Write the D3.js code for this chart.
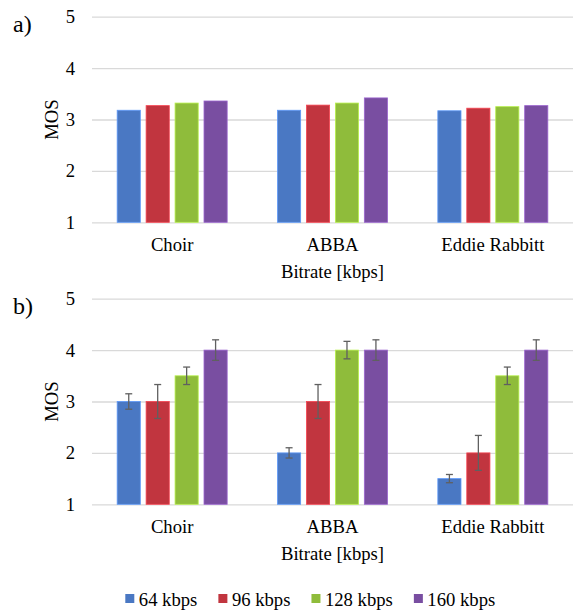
<!DOCTYPE html>
<html>
<head>
<meta charset="utf-8">
<script src="https://cdn.jsdelivr.net/npm/d3@7"></script>
<style>
  body { margin: 0; background: #fff; }
</style>
</head>
<body>
<div id="chart"></div>
<script>

// data
var categories = ["Choir", "ABBA", "Eddie Rabbitt"];
var series = ["64 kbps", "96 kbps", "128 kbps", "160 kbps"];
var colors = ["#4a78c3", "#c1353f", "#8fbc3b", "#794ea1"];
var yTicks = [1, 2, 3, 4, 5];

// panel a) mean scores, one array per bitrate (Choir, ABBA, Eddie Rabbitt)
var a64  = [3.18, 3.18, 3.17];
var a96  = [3.27, 3.28, 3.22];
var a128 = [3.32, 3.32, 3.25];
var a160 = [3.36, 3.42, 3.27];

// panel b) scores and error bars
var b64  = [3.0, 2.0, 1.5];
var b96  = [3.0, 3.0, 2.0];
var b128 = [3.5, 4.0, 3.5];
var b160 = [4.0, 4.0, 4.0];
var e64  = [0.15, 0.10, 0.08];
var e96  = [0.33, 0.33, 0.34];
var e128 = [0.17, 0.17, 0.17];
var e160 = [0.20, 0.20, 0.20];

var width = 573, height = 612;
var fontSize = 18.67;
var baseSize = 16;   // text is set at 16px and scaled up to the wanted size

// move x/y into a transform and scale the text to the wanted size
function serifText(sel, size) {
  sel.each(function() {
    var t = d3.select(this);
    var x = +t.attr("x") || 0, y = +t.attr("y") || 0;
    var tr = t.attr("transform") || "";
    t.attr("x", null).attr("y", null)
      .attr("transform", tr + " translate(" + x + "," + y + ") scale(" + (size / baseSize) + ")")
      .attr("font-family", "'Liberation Serif'")
      .attr("font-size", baseSize)
      .attr("fill", "#000");
  });
}

var svg = d3.select("#chart").append("svg")
    .attr("width", width)
    .attr("height", height);

svg.append("rect").attr("width", width).attr("height", height).attr("fill", "#fff");

// x scales shared by both panels
var x0 = d3.scaleBand()
    .domain(categories)
    .range([92, 573]);

var innerW = 110;
var x1 = d3.scaleBand()
    .domain(series)
    .range([0, innerW])
    .paddingInner(0.2);
var innerOff = (x0.bandwidth() - innerW) / 2;

function drawPanel(top, label, values, errors) {
  var y = d3.scaleLinear()
      .domain([1, 5])
      .range([top + 205.6, top]);

  var g = svg.append("g");

  // gridlines + tick labels
  var yAxis = g.append("g")
      .attr("transform", "translate(92,0)")
      .call(d3.axisLeft(y).tickValues(yTicks).tickFormat(d3.format("d"))
        .tickSize(-(573 - 92)).tickPadding(17));
  yAxis.select(".domain").remove();
  yAxis.selectAll("line").attr("stroke", "#d9d9d9").attr("stroke-width", 1.3);
  serifText(yAxis.selectAll("text"), fontSize);

  // category labels
  var xAxis = g.append("g")
      .attr("transform", "translate(0," + y(1) + ")")
      .call(d3.axisBottom(x0).tickSize(0).tickPadding(15.4));
  xAxis.select(".domain").remove();
  serifText(xAxis.selectAll("text"), fontSize);

  // bars
  var rows = [];
  categories.forEach(function(c, i) {
    series.forEach(function(s, j) {
      rows.push({ cat: c, ser: s, idx: j, value: values[j][i],
                  err: errors ? errors[j][i] : null });
    });
  });

  g.append("g").selectAll("rect")
      .data(rows)
    .enter().append("rect")
      .attr("x", function(d) { return x0(d.cat) + innerOff + x1(d.ser); })
      .attr("y", function(d) { return y(d.value); })
      .attr("width", x1.bandwidth())
      .attr("height", function(d) { return y(1) - y(d.value); })
      .attr("fill", function(d) { return colors[d.idx]; })
      .attr("stroke", function(d) { return d3.color(colors[d.idx]).brighter(0.7); })
      .attr("stroke-width", 0.8);

  // error bars
  if (errors) {
    var eb = g.append("g").selectAll("g")
        .data(rows)
      .enter().append("g")
        .attr("stroke", "#606060")
        .attr("stroke-width", 1.3);
    var cx = function(d) { return x0(d.cat) + innerOff + x1(d.ser) + x1.bandwidth() / 2; };
    eb.append("line")
        .attr("x1", cx).attr("x2", cx)
        .attr("y1", function(d) { return y(d.value + d.err); })
        .attr("y2", function(d) { return y(d.value - d.err); });
    eb.append("line")
        .attr("x1", function(d) { return cx(d) - 3.5; })
        .attr("x2", function(d) { return cx(d) + 3.5; })
        .attr("y1", function(d) { return y(d.value + d.err); })
        .attr("y2", function(d) { return y(d.value + d.err); });
    eb.append("line")
        .attr("x1", function(d) { return cx(d) - 3.5; })
        .attr("x2", function(d) { return cx(d) + 3.5; })
        .attr("y1", function(d) { return y(d.value - d.err); })
        .attr("y2", function(d) { return y(d.value - d.err); });
  }

  // axis titles
  g.append("text")
      .attr("transform", "translate(58," + ((y(1) + y(5)) / 2) + ") rotate(-90)")
      .attr("text-anchor", "middle")
      .text("MOS")
      .call(serifText, fontSize);

  g.append("text")
      .attr("x", x0.range()[0] + (x0.range()[1] - x0.range()[0]) / 2)
      .attr("y", y(1) + 55.7)
      .attr("text-anchor", "middle")
      .text("Bitrate [kbps]")
      .call(serifText, fontSize);

  // panel label
  g.append("text")
      .attr("x", 13)
      .attr("y", top + 15.5)
      .text(label)
      .call(serifText, 24);
}

drawPanel(16.7, "a)", [a64, a96, a128, a160], null);
drawPanel(298.7, "b)", [b64, b96, b128, b160], [e64, e96, e128, e160]);

// legend
var legend = svg.append("g");
var lx = 125.3;
series.forEach(function(s, i) {
  legend.append("rect")
      .attr("x", lx)
      .attr("y", 594)
      .attr("width", 9)
      .attr("height", 9)
      .attr("fill", colors[i]);
  var t = legend.append("text")
      .attr("x", lx + 13.5)
      .attr("y", 606)
      .text(s)
      .call(serifText, fontSize);
  var w = t.node().getComputedTextLength() * fontSize / baseSize;
  lx = lx + 13.5 + w + 21;
});

</script>
</body>
</html>
